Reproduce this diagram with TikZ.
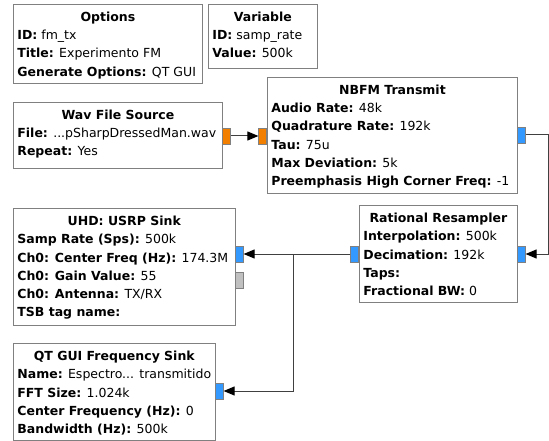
\documentclass[tikz,border=0pt]{standalone}
\usepackage{fontspec}
\setmainfont{DejaVu Sans}
\usetikzlibrary{arrows.meta}
\definecolor{blkline}{HTML}{808080}
\definecolor{cplxcol}{HTML}{3399FF}
\definecolor{fltcol}{HTML}{F37F00}
\definecolor{msgcol}{HTML}{C0C0C0}
\definecolor{wirecol}{HTML}{404040}
\tikzset{>=latex}
\tikzset{
  blk/.style={draw=blkline, fill=white, line width=0.8pt, inner xsep=4pt, inner ysep=0pt, anchor=north west},
  port/.style={draw=blkline, line width=0.6pt, minimum width=8pt, minimum height=16pt, inner sep=0pt},
  wire/.style={draw=wirecol, line width=1pt, -{Triangle[length=11pt,width=9pt,color=black]}}
}
% width, height, title, lines
\newcommand{\blockbody}[4]{%
  \parbox[t][#2][t]{#1}{\fontsize{12.5}{18.3}\selectfont\setlength{\parskip}{0pt}%
    \centering\rule{0pt}{17pt}\textbf{#3}\par\raggedright #4}}

\begin{document}
\begin{tikzpicture}[x=1pt, y=-1pt]
\useasboundingbox (0,0) rectangle (549,441);

% --- blocks ---
\node[blk] (opts) at (13,4) {\blockbody{181pt}{79pt}{Options}{%
  \textbf{ID:} fm\_tx\\
  \textbf{Title:} Experimento FM\\
  \textbf{Generate Options:} QT GUI}};

\node[blk] (var) at (208,4) {\blockbody{101pt}{64pt}{Variable}{%
  \textbf{ID:} samp\_rate\\
  \textbf{Value:} 500k}};

\node[blk] (wav) at (13,102) {\blockbody{201pt}{66pt}{Wav File Source}{%
  \textbf{File:} ...pSharpDressedMan.wav\\
  \textbf{Repeat:} Yes}};

\node[blk] (nbfm) at (267,77) {\blockbody{242pt}{116pt}{NBFM Transmit}{%
  \textbf{Audio Rate:} 48k\\
  \textbf{Quadrature Rate:} 192k\\
  \textbf{Tau:} 75u\\
  \textbf{Max Deviation:} 5k\\
  \textbf{Preemphasis High Corner Freq:} -1}};

\node[blk] (uhd) at (13,208) {\blockbody{214pt}{117pt}{UHD: USRP Sink}{%
  \textbf{Samp Rate (Sps):} 500k\\
  \textbf{Ch0: Center Freq (Hz):} 174.3M\\
  \textbf{Ch0: Gain Value:} 55\\
  \textbf{Ch0: Antenna:} TX/RX\\
  \textbf{TSB tag name:}}};

\node[blk] (resamp) at (359,205) {\blockbody{150pt}{97pt}{Rational Resampler}{%
  \textbf{Interpolation:} 500k\\
  \textbf{Decimation:} 192k\\
  \textbf{Taps:}\\
  \textbf{Fractional BW:} 0}};

\node[blk] (qt) at (13,343) {\blockbody{194pt}{97pt}{QT GUI Frequency Sink}{%
  \mbox{\textbf{Name:} Espectro... transmitido}\\
  \textbf{FFT Size:} 1.024k\\
  \textbf{Center Frequency (Hz):} 0\\
  \textbf{Bandwidth (Hz):} 500k}};

% --- ports ---
\node[port, fill=fltcol, anchor=west] (wavout) at (222,136) {};
\node[port, fill=fltcol, anchor=east] (nbin) at (267,136) {};
\node[port, fill=cplxcol, anchor=west] (nbout) at (517,135) {};
\node[port, fill=cplxcol, anchor=west] (rsin) at (517,254) {};
\node[port, fill=cplxcol, anchor=east] (rsout) at (359,254) {};
\node[port, fill=cplxcol, anchor=west] (uhdin) at (235,254) {};
\node[port, fill=msgcol, anchor=west] (uhdmsg) at (235,280) {};
\node[port, fill=cplxcol, anchor=west] (qtin) at (215,391) {};

% --- connections ---
\draw[wire] (wavout) -- (nbin);
\draw[wire] (nbout.east) -- ++(23,0) |- (rsin.east);
\draw[wire] (rsout.west) -- (uhdin.east);
\draw[wire] (rsout.west) -- ++(-57,0) |- (qtin.east);

\end{tikzpicture}
\end{document}
